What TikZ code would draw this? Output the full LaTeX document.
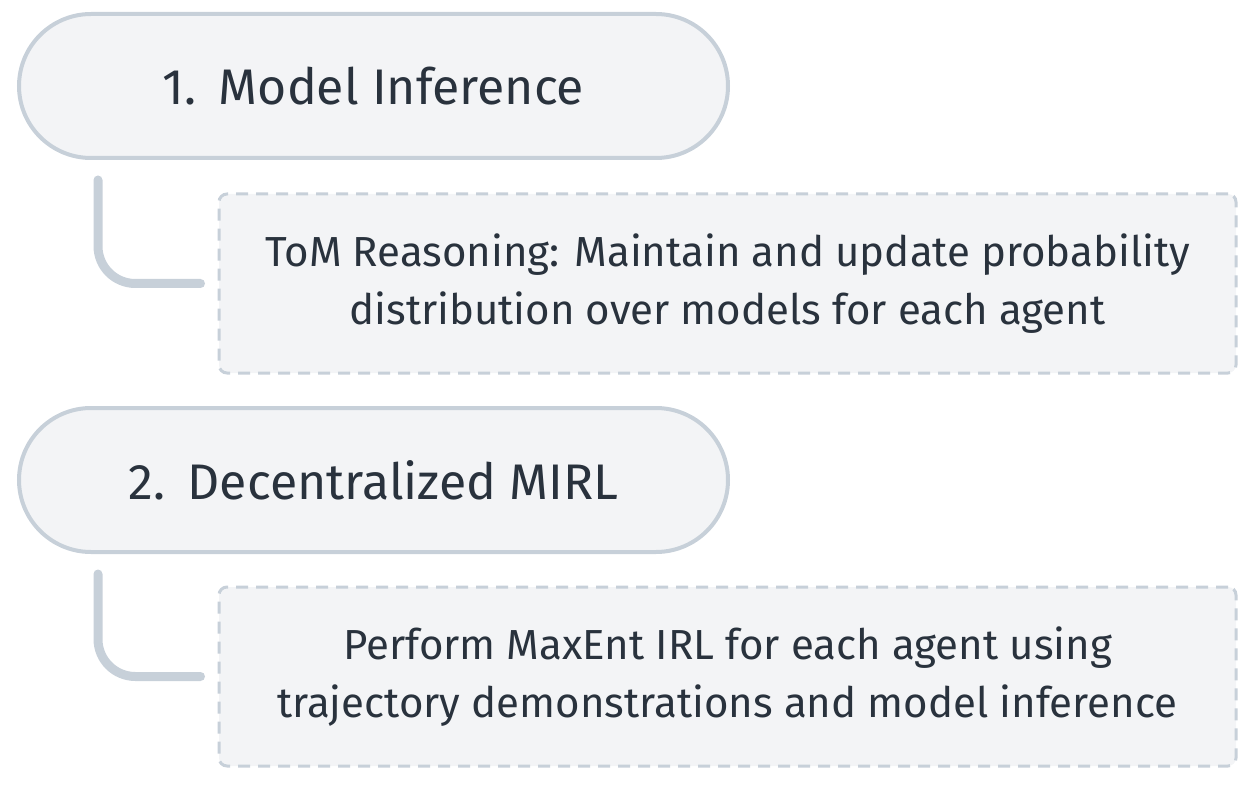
\documentclass[tikz,border=0pt]{standalone}
\usepackage{fontspec}
\setmainfont{Fira Sans}
\usetikzlibrary{positioning,calc}
\definecolor{edgegray}{HTML}{C7D0D9}
\definecolor{boxfill}{HTML}{F3F4F6}
\definecolor{inkslate}{HTML}{29323D}
\begin{document}
\begin{tikzpicture}[
        x=0.75pt, y=-0.75pt,
        every node/.style={text=inkslate},
        stage/.style={draw=edgegray, line width=3pt, fill=boxfill, rounded corners=54pt,
            minimum width=531.75pt, minimum height=108pt, inner sep=0pt,
            font=\fontsize{37.5}{45}\selectfont},
        detail/.style={draw=edgegray, line width=2.25pt, dash pattern=on 9pt off 6pt,
            fill=boxfill, rounded corners=6pt, minimum width=762.75pt, minimum height=134.25pt,
            inner sep=0pt, align=center, font=\fontsize{31.5}{44}\selectfont},
        link/.style={draw=edgegray, line width=6.75pt, line cap=round, rounded corners=28pt},
        ]
        \useasboundingbox (0,0) rectangle (1258,788);
        % step 1
        \node[stage] (infer) at (373.5,86) {1.\hspace{0.45em}Model Inference};
        \node[detail] (tom) at (727.5,283.5) {ToM Reasoning: Maintain and update probability\\distribution over models for each agent};
        \draw[link] ($(infer.south west)+(81,20)$) |- ($(tom.west)+(-17,0)$);
        % step 2
        \node[stage] (mirl) at (373.5,480) {2.\hspace{0.45em}Decentralized MIRL};
        \node[detail] (irl) at (727.5,676.5) {Perform MaxEnt IRL for each agent using\\trajectory demonstrations and model inference};
        \draw[link] ($(mirl.south west)+(81,20)$) |- ($(irl.west)+(-17,0)$);
    \end{tikzpicture}
\end{document}
